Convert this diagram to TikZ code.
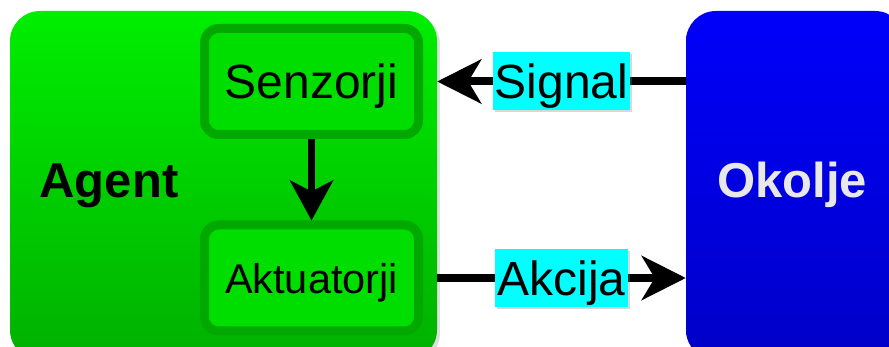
\documentclass[tikz,border=0pt]{standalone}
\usepackage{fontspec}
\setmainfont{Liberation Sans}
\usetikzlibrary{arrows.meta,shadows}
\definecolor{agtop}{RGB}{0,238,0}
\definecolor{agbot}{RGB}{0,176,0}
\definecolor{inborder}{RGB}{0,168,0}
\definecolor{infill}{RGB}{0,222,0}
\definecolor{oktop}{RGB}{0,0,250}
\definecolor{okbot}{RGB}{0,0,200}
\definecolor{oktext}{RGB}{232,232,232}
\definecolor{labcyan}{RGB}{0,255,255}
\tikzset{
  bigbox/.style={rectangle, draw=none, inner sep=0pt,
    drop shadow={opacity=0.25, shadow xshift=3pt, shadow yshift=-3pt}},
  innerbox/.style={rectangle, rounded corners=14pt, draw=inborder, line width=9pt,
    fill=infill, minimum width=214pt, minimum height=106pt, inner sep=0pt,
    text depth=0pt, font=\fontsize{48}{52}\selectfont},
  arr/.style={line width=8pt, -{Stealth[length=44pt, width=44pt, inset=13pt]}},
  lab/.style={fill=labcyan, inner sep=0pt, minimum width=137pt, minimum height=58pt,
    text depth=0pt, font=\fontsize{48}{52}\selectfont,
    drop shadow={opacity=0.3, shadow xshift=2pt, shadow yshift=-2pt}},
  bigtext/.style={text depth=0pt, font=\bfseries\fontsize{49}{52}\selectfont}
}
\begin{document}
\begin{tikzpicture}[x=1pt,y=-1pt]
\useasboundingbox (0,0) rectangle (889,347);
\fill[white] (0,0) rectangle (889,347);
% Agent box
\node[bigbox, minimum width=427pt, minimum height=349pt, rounded corners=30pt,
  top color=agtop, bottom color=agbot] (agent) at (223.5,185.5) {};
% Okolje box
\node[bigbox, minimum width=219pt, minimum height=349pt, rounded corners=30pt,
  top color=oktop, bottom color=okbot] (okolje) at (795.5,185.5) {};
\node[bigtext, text=oktext] (oklab) at (792,180) {Okolje};
\node[bigtext] (aglab) at (109,181) {Agent};
% inner boxes
\node[innerbox] (senz) at (311.5,81.5) {Senzorji};
\node[innerbox, font=\fontsize{41.5}{44}\selectfont] (akt) at (311.5,278) {Aktuatorji};
% arrows
\draw[line width=7pt, -{Stealth[length=40pt, width=43pt, inset=11pt]}] (senz.south) -- (akt.north);
\draw[arr] (okolje.west |- senz.east) -- node[lab] (sig) {Signal} (agent.east |- senz.east);
\draw[arr] (agent.east |- akt.east) -- node[lab, minimum width=133pt] (akc) {Akcija} (okolje.west |- akt.east);
\end{tikzpicture}
\end{document}
